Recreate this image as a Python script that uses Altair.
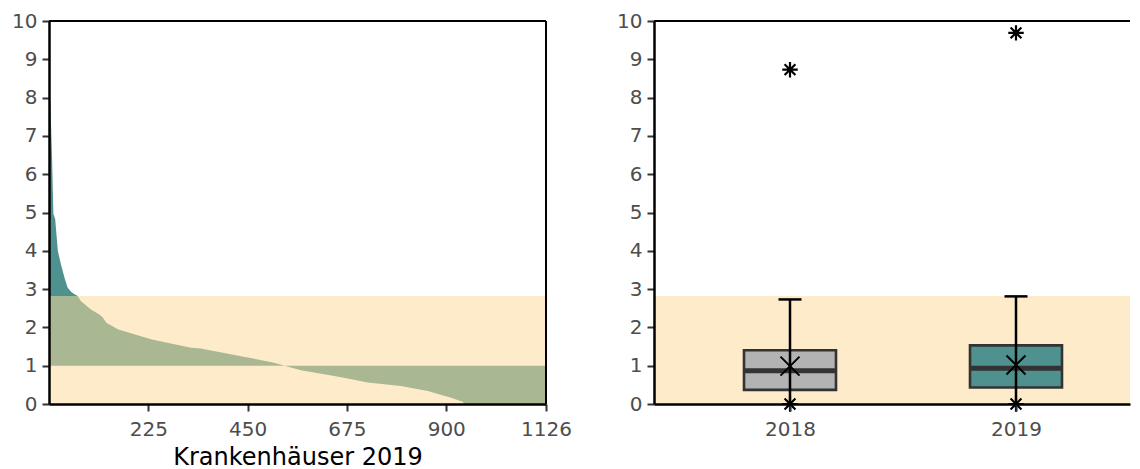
import altair as alt
import pandas as pd

# ---------------- data ----------------
# left panel: hospitals sorted by value (curve)
hosp_idx = [0, 3, 7, 10, 14, 20, 27, 35, 42, 50, 57, 65, 72, 95, 114, 121, 130,
            156, 193, 231, 284, 322, 344, 435, 510, 548, 571, 646, 662, 722,
            797, 858, 911, 937, 941, 1126]
hosp_val = [8.0, 7.9, 6.4, 4.96, 4.83, 4.0, 3.65, 3.30, 3.04, 2.93, 2.87, 2.82,
            2.69, 2.47, 2.34, 2.27, 2.12, 1.95, 1.82, 1.69, 1.56, 1.47, 1.45,
            1.25, 1.08, 0.95, 0.88, 0.73, 0.70, 0.56, 0.47, 0.34, 0.16, 0.06,
            0.0, 0.0]
ref_value = 1.0          # reference line of the ribbon
band_upper = 2.82        # upper limit of the shaded band
n_hospitals = 1126
x_ticks = [225, 450, 675, 900, 1126]
y_ticks = list(range(11))

# right panel: box plot statistics
years = [2018, 2019]
q1 = [0.37, 0.43]
median = [0.87, 0.935]
q3 = [1.405, 1.53]
whisk_lo = [0.0, 0.0]
whisk_hi = [2.73, 2.81]
mean = [0.99, 1.02]
out_year = [2018, 2018, 2019, 2019]
out_val = [0.0, 8.73, 0.0, 9.69]

# ---------------- style ----------------
TEAL = "#4F918E"
GREY = "#B3B3B3"
BAND = "#FDD998"
FONT = "DejaVu Sans"
LW, RW, H = 497, 476, 383
STAR = "M0,-1L0,1M-1,0L1,0M-0.7,-0.7L0.7,0.7M-0.7,0.7L0.7,-0.7"
XMARK = "M-1,-1L1,1M-1,1L1,-1"

curve = pd.DataFrame({"idx": hosp_idx, "val": hosp_val, "ref": ref_value})
band = pd.DataFrame({"lo": [0.0], "hi": [band_upper]})
frame = pd.DataFrame({"top": [10], "right": [n_hospitals]})
box = pd.DataFrame({"year": years, "q1": q1, "median": median, "q3": q3,
                    "lo": whisk_lo, "hi": whisk_hi, "mean": mean})
outl = pd.DataFrame({"year": out_year, "val": out_val})

yscale = alt.Scale(domain=[0, 10], nice=False, zero=False, padding=0)
yaxis = alt.Axis(values=y_ticks, title=None, zindex=1, labelOverlap=False)


def Y(field):
    return alt.Y(field, scale=yscale, axis=yaxis)


# ---------------- left panel ----------------
lscale = alt.Scale(domain=[0, n_hospitals], nice=False, zero=False, padding=0)
laxis = alt.Axis(values=x_ticks, format="d", title="Krankenhäuser 2019",
                 zindex=1, labelOverlap=False)


def LX(field):
    return alt.X(field, scale=lscale, axis=laxis)


area = alt.Chart(curve).mark_area(color=TEAL, interpolate="linear").encode(
    x=LX("idx:Q"), y=Y("val:Q"), y2="ref:Q")
band_l = alt.Chart(band).mark_rect(color=BAND, opacity=0.525).encode(
    y=Y("lo:Q"), y2="hi:Q", x=alt.value(0), x2=alt.value(LW))
top_l = alt.Chart(frame).mark_rule(color="black", strokeWidth=2).encode(y=Y("top:Q"))
right_l = alt.Chart(frame).mark_rule(color="black", strokeWidth=2).encode(x=LX("right:Q"))
left = alt.layer(area, band_l, top_l, right_l).properties(width=LW, height=H)

# ---------------- right panel ----------------
step = 226.0
rscale = alt.Scale(domain=[2018 - 136 / step, 2018 + (RW - 136) / step],
                   nice=False, zero=False, padding=0)
raxis = alt.Axis(values=years, format="d", title=None, zindex=1, labelOverlap=False)


def RX(field):
    return alt.X(field, scale=rscale, axis=raxis)


band_r = alt.Chart(band).mark_rect(color=BAND, opacity=0.525).encode(
    y=Y("lo:Q"), y2="hi:Q", x=alt.value(0), x2=alt.value(RW))
boxes = alt.Chart(box).mark_bar(size=92, stroke="#333333", strokeWidth=2.6).encode(
    x=RX("year:Q"), y=Y("q1:Q"), y2="q3:Q",
    fill=alt.Fill("year:N", scale=alt.Scale(domain=years, range=[GREY, TEAL]),
                  legend=None))
med = alt.Chart(box).mark_tick(orient="horizontal", size=92, thickness=5,
                               color="#333333", opacity=1).encode(
    x=RX("year:Q"), y=Y("median:Q"))
whisk = alt.Chart(box).mark_rule(color="black", strokeWidth=2.5).encode(
    x=RX("year:Q"), y=Y("lo:Q"), y2="hi:Q")
cap = alt.Chart(box).mark_tick(orient="horizontal", size=23, thickness=2.5,
                               color="black", opacity=1).encode(
    x=RX("year:Q"), y=Y("hi:Q"))
means = alt.Chart(box).mark_point(shape=XMARK, size=361, stroke="black",
                                  strokeWidth=2, filled=False, opacity=1).encode(
    x=RX("year:Q"), y=Y("mean:Q"))
stars = alt.Chart(outl).mark_point(shape=STAR, size=240, stroke="black",
                                   strokeWidth=2.2, filled=False, opacity=1).encode(
    x=RX("year:Q"), y=Y("val:Q"))
top_r = alt.Chart(frame).mark_rule(color="black", strokeWidth=2).encode(y=Y("top:Q"))
right = alt.layer(band_r, boxes, med, whisk, cap, means, stars, top_r).properties(
    width=RW, height=H)

chart = alt.hconcat(left, right, spacing=108, bounds="flush").properties(
    padding={"left": 3, "top": 2, "right": 0, "bottom": 0}
).configure_view(stroke="transparent").configure_axis(
    grid=False, domainColor="black", domainWidth=2.5, tickColor="#333333",
    tickWidth=2, tickSize=7, labelPadding=5, labelFont=FONT, labelFontSize=20,
    labelColor="#4D4D4D", titleFont=FONT, titleFontSize=24, titleColor="black",
    titleFontWeight="normal", titlePadding=6
).configure_axisX(labelPadding=8, labelFlush=False)

chart.save("out.html", embed_options={"renderer": "svg", "actions": False})
